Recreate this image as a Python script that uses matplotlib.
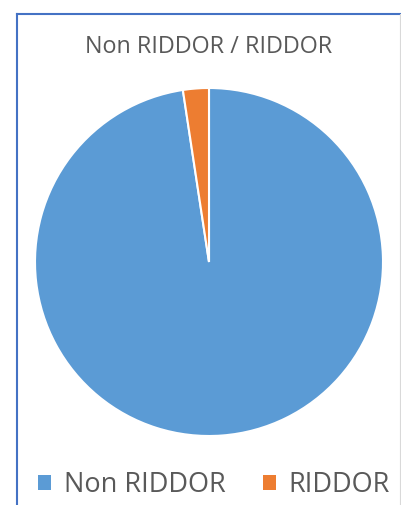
import matplotlib
matplotlib.use("Agg")
import matplotlib.pyplot as plt
from matplotlib.lines import Line2D
from matplotlib.patches import Rectangle

labels = ["Non RIDDOR", "RIDDOR"]
values = [97.6, 2.4]
colors = ["#5B9BD5", "#ED7D31"]
title = "Non RIDDOR / RIDDOR"

plt.rcParams['font.family'] = ['Open Sans', 'DejaVu Sans']
W, H = 402, 505
fig = plt.figure(figsize=(W / 100, H / 100), dpi=100)
fig.patch.set_facecolor("white")

# chart border (blue) on top and left, gray on right
fig.add_artist(Line2D([17 / W, 17 / W], [0, 1 - 14 / H], transform=fig.transFigure,
                      color="#4472C4", lw=1.5))
fig.add_artist(Line2D([17 / W, 1], [1 - 14 / H, 1 - 14 / H], transform=fig.transFigure,
                      color="#4472C4", lw=1.5))
fig.add_artist(Line2D([400 / W, 400 / W], [0, 1 - 14 / H], transform=fig.transFigure,
                      color="#D9D9D9", lw=0.8))

cx, cy, r = 209, 262, 174
ax = fig.add_axes([(cx - r) / W, (H - cy - r) / H, 2 * r / W, 2 * r / H])
ax.pie(values, colors=colors, startangle=90, counterclock=False,
       wedgeprops=dict(edgecolor="white", linewidth=1.5))
ax.set_xlim(-1.0, 1.0)
ax.set_ylim(-1.0, 1.0)
ax.set_aspect("auto")
ax.axis("off")

fig.text(cx / W, 1 - 47 / H, title, ha="center", va="center", fontsize=16.8, color="#595959")

handles = [Rectangle((0, 0), 1, 1, facecolor=c, edgecolor="none") for c in colors]
fig.legend(handles, labels, loc="center", bbox_to_anchor=(214 / W, 1 - 485 / H), ncol=2,
           frameon=False, fontsize=19.5, labelcolor="#595959", handlelength=0.48,
           handleheight=0.48, handletextpad=0.48, columnspacing=1.37,
           borderpad=0, borderaxespad=0)

fig.savefig("out.png", dpi=100, facecolor="white")
